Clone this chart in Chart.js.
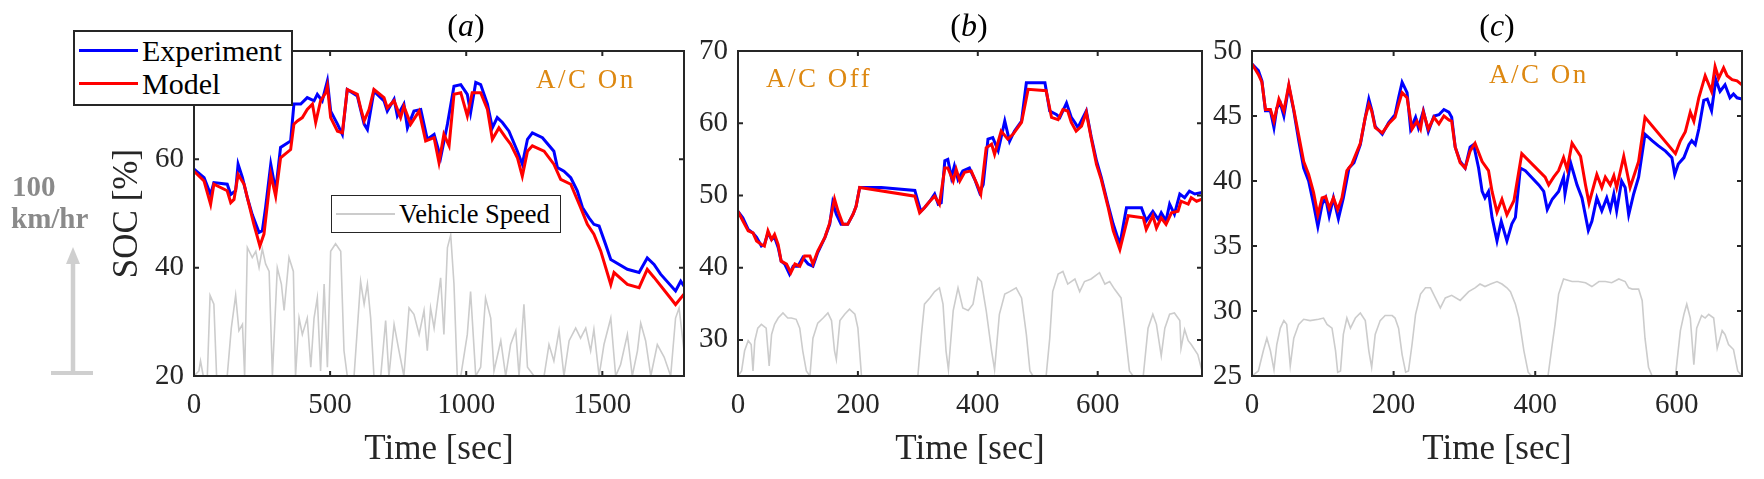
<!DOCTYPE html>
<html lang="en">
<head>
  <meta charset="UTF-8" />
  <title>SOC vs time</title>
  <script src="https://cdn.jsdelivr.net/npm/chart.js"></script>
  <style>
    body {
      margin: 0;
      background: #ffffff;
      width: 1764px;
      height: 479px;
      overflow: hidden;
      position: relative;
      font-family: 'Liberation Serif', serif;
    }
    canvas { position: absolute; top: 0; }
    .txt { position: absolute; white-space: nowrap; }
    .legend {
      position: absolute;
      box-sizing: border-box;
      background: #ffffff;
      border: 2.5px solid #262626;
      z-index: 3;
    }
    .legend .swatch { position: absolute; left: 4px; width: 59px; }
    .legend .label { position: absolute; left: 67px; color: #000; }
    .ac {
      color: #dd8811;
      font-size: 27px;
      line-height: 27px;
      letter-spacing: 2.5px;
      z-index: 2;
    }
    .ptitle {
      width: 100px;
      text-align: center;
      font-size: 32px;
      line-height: 32px;
      color: #000;
    }
    .speedNote {
      color: #8a8a8a;
      font-weight: bold;
      font-size: 29px;
      line-height: 29px;
    }
  </style>
</head>
<body>
  <canvas id="chartA" width="700" height="479" style="left:0px"></canvas>
  <canvas id="chartB" width="532" height="479" style="left:688px"></canvas>
  <canvas id="chartC" width="559" height="479" style="left:1205px"></canvas>

  <div class="txt ptitle" style="left:416px;top:9px">(<i>a</i>)</div>
  <div class="txt ptitle" style="left:919px;top:9px">(<i>b</i>)</div>
  <div class="txt ptitle" style="left:1447px;top:9px">(<i>c</i>)</div>

  <div class="txt ac" style="left:536px;top:66px">A/C On</div>
  <div class="txt ac" style="left:766px;top:65px">A/C Off</div>
  <div class="txt ac" style="left:1489px;top:61px">A/C On</div>

  <div class="legend" style="left:73px;top:30px;width:220px;height:76px">
    <div class="swatch" style="top:17px;height:3px;background:#0000ff"></div>
    <div class="label" style="top:2px;font-size:30px;line-height:34px">Experiment</div>
    <div class="swatch" style="top:50px;height:3px;background:#ff0000"></div>
    <div class="label" style="top:35px;font-size:30px;line-height:34px">Model</div>
  </div>

  <div class="legend" style="left:331px;top:195px;width:230px;height:38px;border-width:1.5px">
    <div class="swatch" style="top:17px;height:2px;background:#cccccc"></div>
    <div class="label" style="top:2px;font-size:26.5px;line-height:32px">Vehicle Speed</div>
  </div>

  <div class="txt speedNote" style="left:12px;top:172px">100</div>
  <div class="txt speedNote" style="left:11px;top:204px">km/hr</div>
  <svg width="110" height="479" style="position:absolute;left:0;top:0">
    <line x1="73" y1="373" x2="73" y2="262" stroke="#cfcfcf" stroke-width="4.5"/>
    <polygon points="66,264 80,264 73,247" fill="#cfcfcf"/>
    <line x1="51" y1="373" x2="93" y2="373" stroke="#cfcfcf" stroke-width="4"/>
  </svg>

  <script>
    // ---- panel (a): A/C on, long drive ----
    const xTicksA = [0, 500, 1000, 1500];
    const yTicksA = [20, 40, 60, 80];
    const expA = [[0,58.2],[37,56.6],[61,53.5],[73,55.7],[122,55.4],[135,53.5],[153,54.2],[162,59.1],[178,56.6],[196,52.9],[214,49.8],[239,46.5],[251,46.8],[263,51.1],[282,59.1],[300,54.2],[318,62.2],[355,63.4],[367,70.2],[392,70.2],[416,71.4],[441,70.8],[453,72.0],[471,70.8],[490,74.5],[502,68.9],[527,66.5],[545,64.6],[563,72.9],[600,71.7],[625,66.5],[637,65.5],[661,72.6],[698,70.8],[710,68.9],[735,71.1],[747,68.0],[771,70.2],[784,65.8],[808,68.9],[833,69.2],[857,63.7],[882,64.6],[906,60.3],[931,66.5],[955,73.5],[980,73.8],[1004,72.0],[1016,68.6],[1035,74.2],[1053,73.8],[1078,70.2],[1096,65.8],[1114,67.7],[1133,66.8],[1157,65.2],[1188,61.5],[1206,59.1],[1225,63.7],[1243,64.9],[1280,64.0],[1322,61.5],[1335,58.5],[1359,57.8],[1384,56.6],[1408,54.2],[1427,51.1],[1451,49.2],[1469,48.0],[1488,47.7],[1512,44.3],[1531,41.5],[1592,39.7],[1635,39.1],[1665,41.8],[1690,40.6],[1714,38.8],[1769,35.7],[1788,37.5],[1800,36.6]];
    const modelA = [[0,57.8],[37,56.0],[61,51.7],[73,55.4],[122,54.2],[135,52.0],[147,52.6],[162,57.2],[184,55.4],[202,51.7],[220,48.0],[242,44.0],[257,46.2],[282,57.2],[300,53.2],[318,60.3],[355,61.8],[367,66.5],[380,67.1],[398,67.7],[416,69.2],[435,70.2],[447,66.8],[465,70.8],[484,72.3],[490,73.5],[502,67.7],[527,65.2],[545,64.9],[563,72.9],[600,72.0],[612,69.5],[625,67.1],[643,69.2],[661,72.9],[698,71.4],[710,69.5],[735,70.8],[759,67.7],[771,69.8],[796,66.5],[827,68.9],[851,63.4],[882,64.0],[900,59.4],[918,64.6],[937,62.5],[955,72.0],[980,72.3],[1004,68.0],[1022,72.3],[1053,72.3],[1078,69.2],[1096,63.7],[1120,65.8],[1145,64.0],[1163,62.8],[1188,60.3],[1206,56.9],[1225,61.5],[1243,62.5],[1286,61.5],[1322,59.1],[1347,56.3],[1384,55.4],[1420,51.1],[1445,48.0],[1469,46.2],[1494,43.1],[1531,36.9],[1543,39.1],[1592,36.9],[1635,36.3],[1665,39.7],[1690,38.2],[1769,33.2],[1800,35.1]];
    const speedA = [[0,0],[18,4],[24,12],[34,0],[49,0],[59,64],[73,57],[83,0],[122,0],[137,38],[153,64],[165,36],[178,41],[186,0],[196,102],[214,94],[227,99],[239,86],[251,101],[263,89],[276,83],[288,0],[306,86],[321,73],[331,52],[349,94],[365,83],[373,0],[386,46],[398,33],[416,46],[429,7],[441,46],[453,62],[465,4],[478,73],[490,7],[502,99],[520,105],[539,99],[551,20],[563,0],[588,0],[612,75],[625,57],[637,73],[649,46],[661,0],[686,0],[704,44],[716,0],[735,41],[753,20],[771,0],[790,54],[808,49],[827,33],[845,52],[857,20],[869,54],[882,38],[906,78],[918,33],[931,102],[943,112],[955,73],[967,0],[980,0],[1004,33],[1016,67],[1035,0],[1053,7],[1071,62],[1090,46],[1102,4],[1127,28],[1145,0],[1163,25],[1182,36],[1194,0],[1212,57],[1225,7],[1249,0],[1286,0],[1304,25],[1322,12],[1341,36],[1359,0],[1378,28],[1402,38],[1420,30],[1439,38],[1457,20],[1469,37],[1488,0],[1506,25],[1531,46],[1549,0],[1567,9],[1592,33],[1610,0],[1629,20],[1641,42],[1659,28],[1678,0],[1702,25],[1727,15],[1751,0],[1769,46],[1782,54],[1800,20]];

    // ---- panel (b): A/C off ----
    const xTicksB = [0, 200, 400, 600];
    const yTicksB = [30, 40, 50, 60, 70];
    const expB = [[0,47.8],[8,46.9],[17,45.3],[25,44.8],[31,44.2],[39,43.0],[44,43.2],[50,44.8],[56,43.9],[61,44.2],[67,42.8],[72,40.9],[78,40.5],[86,39.1],[92,40.2],[100,40.2],[108,41.4],[117,40.5],[125,40.2],[133,42.1],[145,44.2],[153,46.0],[158,49.0],[164,47.4],[172,46.0],[183,46.0],[192,47.4],[197,48.5],[203,51.1],[239,51.1],[295,50.7],[300,49.2],[305,47.8],[311,48.3],[320,49.2],[328,50.2],[334,48.8],[339,49.0],[345,54.8],[350,55.0],[356,52.5],[361,54.1],[367,52.2],[375,53.4],[386,53.8],[395,52.2],[403,50.4],[409,51.5],[417,57.8],[425,58.0],[434,56.2],[445,60.3],[453,57.5],[461,58.9],[473,60.3],[481,65.6],[512,65.6],[520,61.7],[531,61.2],[537,60.8],[548,62.8],[556,60.8],[562,60.1],[567,59.4],[581,61.7],[589,58.2],[598,54.8],[606,52.5],[617,48.8],[626,46.0],[637,43.2],[648,48.3],[673,48.3],[681,46.5],[692,47.8],[701,46.7],[706,47.6],[714,46.5],[720,48.8],[728,47.4],[737,50.2],[745,49.7],[753,50.6],[762,50.2],[774,50.4]];
    const modelB = [[0,47.8],[8,46.5],[17,45.1],[25,44.8],[31,43.7],[39,43.2],[44,43.0],[50,45.1],[56,43.9],[61,44.6],[67,43.2],[72,40.9],[81,40.5],[88,39.3],[95,40.5],[103,40.2],[111,41.6],[120,41.6],[125,40.5],[133,42.3],[145,44.2],[153,46.2],[161,49.5],[167,47.8],[175,46.0],[183,46.0],[192,47.4],[197,48.5],[203,51.1],[295,49.9],[303,47.6],[311,48.3],[320,49.2],[328,49.9],[336,48.8],[345,53.8],[350,53.8],[359,52.0],[364,53.6],[370,52.0],[378,53.2],[389,53.4],[400,51.3],[405,50.2],[414,56.6],[423,57.1],[428,55.7],[439,58.9],[450,57.8],[459,58.5],[473,60.1],[484,64.7],[514,64.5],[523,60.8],[534,60.5],[542,61.9],[550,61.7],[556,60.1],[564,58.9],[573,59.6],[581,61.5],[589,58.0],[598,54.3],[606,52.2],[617,48.5],[626,45.1],[637,42.5],[651,47.2],[676,46.9],[681,45.3],[692,47.2],[698,45.5],[706,46.9],[714,46.0],[723,47.6],[734,47.8],[739,49.2],[751,48.8],[756,49.7],[765,49.2],[774,49.5]];
    const speedB = [[0,0],[6,4],[11,20],[17,28],[22,25],[25,4],[28,28],[33,38],[39,41],[47,38],[52,8],[56,33],[61,41],[67,46],[75,50],[83,46],[89,46],[97,45],[103,38],[108,20],[114,4],[120,0],[125,30],[133,42],[142,46],[150,50],[156,44],[161,20],[164,13],[170,44],[178,49],[186,53],[195,49],[200,38],[206,0],[300,0],[306,33],[311,57],[320,62],[328,67],[336,70],[342,57],[347,20],[351,5],[359,52],[367,70],[375,54],[384,52],[392,57],[400,78],[406,75],[414,52],[423,20],[428,5],[436,49],[445,65],[453,67],[464,70],[473,62],[481,33],[487,4],[492,0],[514,0],[520,30],[525,67],[534,81],[542,83],[550,73],[562,77],[570,67],[578,75],[589,77],[603,82],[612,73],[620,75],[628,69],[639,62],[645,38],[653,4],[659,0],[676,0],[684,38],[692,49],[698,41],[706,16],[712,38],[720,49],[728,50],[737,44],[739,22],[745,37],[751,28],[756,25],[767,17],[774,4]];

    // ---- panel (c): A/C on ----
    const xTicksC = [0, 200, 400, 600];
    const yTicksC = [25, 30, 35, 40, 45, 50];
    const expC = [[0,49.0],[9,48.5],[14,47.7],[19,45.4],[26,45.4],[31,44.1],[35,45.6],[40,46.0],[45,45.0],[52,47.3],[59,45.4],[66,43.1],[73,41.0],[80,40.0],[87,38.2],[93,36.5],[99,38.2],[104,38.7],[109,37.3],[115,38.7],[122,37.1],[129,38.7],[137,41.0],[144,41.4],[153,42.8],[160,44.9],[165,46.3],[169,45.5],[174,44.2],[184,43.6],[193,44.5],[202,45.1],[207,46.4],[212,47.6],[219,46.8],[224,44.0],[231,44.9],[235,44.1],[242,45.4],[249,43.8],[257,45.0],[264,45.1],[271,45.5],[278,45.3],[282,44.9],[287,42.6],[294,41.5],[301,41.0],[308,42.6],[313,42.8],[320,41.0],[325,39.2],[329,38.7],[334,39.2],[339,37.2],[346,35.4],[352,36.9],[360,35.4],[367,36.7],[372,37.2],[379,41.0],[386,40.8],[405,39.7],[412,39.2],[417,37.8],[424,38.6],[433,39.2],[440,40.3],[442,39.0],[450,41.4],[459,39.7],[466,38.7],[475,36.2],[480,36.9],[487,38.7],[494,37.7],[501,38.7],[506,37.8],[511,39.0],[515,37.7],[522,40.0],[527,39.5],[532,37.4],[539,39.0],[546,40.3],[555,43.6],[565,43.1],[574,42.7],[584,42.3],[593,41.8],[597,40.5],[602,41.3],[610,41.8],[617,42.8],[621,43.1],[626,42.8],[631,44.0],[638,46.2],[643,46.3],[649,45.4],[655,47.8],[661,46.9],[668,47.4],[675,46.4],[680,46.7],[685,46.4],[692,46.3]];
    const modelC = [[0,49.0],[9,48.2],[14,47.6],[19,45.5],[26,45.5],[31,44.6],[38,46.3],[45,45.4],[52,47.4],[59,45.5],[66,43.5],[73,41.5],[80,40.5],[87,39.1],[93,37.4],[99,38.7],[104,38.8],[109,37.9],[115,38.7],[121,37.8],[127,38.7],[134,40.8],[141,41.3],[153,42.9],[160,44.9],[165,45.9],[169,45.4],[174,44.1],[184,43.7],[193,44.4],[202,44.9],[207,45.9],[212,46.8],[219,46.4],[226,44.0],[233,44.6],[238,44.0],[242,45.3],[249,44.0],[257,44.9],[264,44.4],[271,45.0],[278,44.7],[282,44.6],[287,42.6],[294,41.4],[301,41.0],[308,42.3],[315,42.9],[325,41.5],[334,40.8],[339,39.2],[346,37.6],[353,38.6],[360,37.4],[370,38.5],[381,42.1],[414,40.3],[419,39.7],[426,40.3],[433,40.8],[440,41.8],[445,40.9],[452,42.9],[464,41.9],[471,39.7],[476,38.3],[482,39.5],[487,40.5],[494,39.5],[499,40.3],[506,39.7],[511,40.4],[515,39.5],[525,41.9],[534,39.5],[546,41.5],[555,44.9],[598,42.1],[605,43.1],[612,43.8],[619,45.3],[624,44.6],[631,46.4],[640,48.1],[649,46.9],[654,48.8],[659,47.9],[666,48.7],[671,48.1],[678,47.8],[685,47.7],[692,47.4]];
    const speedC = [[0,0],[9,4],[16,20],[21,30],[26,20],[31,5],[35,25],[40,38],[45,44],[49,41],[54,8],[59,30],[66,41],[73,45],[82,44],[94,45],[101,46],[106,41],[113,38],[118,20],[121,3],[125,4],[129,33],[134,46],[139,38],[146,46],[153,50],[160,44],[165,20],[169,7],[174,33],[181,44],[188,48],[198,48],[202,46],[207,38],[212,17],[217,3],[221,4],[226,25],[231,49],[238,65],[245,70],[252,70],[259,62],[266,54],[273,62],[282,64],[294,60],[306,67],[315,70],[322,73],[329,71],[337,73],[346,75],[353,73],[360,70],[365,67],[372,57],[377,46],[384,20],[390,3],[395,0],[418,0],[424,25],[428,41],[433,65],[440,77],[452,75],[461,75],[471,74],[480,71],[490,75],[499,75],[508,74],[518,77],[527,75],[532,70],[537,69],[546,69],[551,60],[555,30],[560,7],[565,0],[598,0],[605,36],[610,49],[614,57],[619,46],[624,9],[628,38],[635,48],[640,46],[645,49],[652,46],[657,22],[664,36],[668,33],[673,25],[680,21],[686,4],[692,0]];

    const AXIS_COLOR = '#262626';
    const SPEED_MAX = 258; // km/hr at top of the axes box (100 km/hr = arrow length)

    Chart.defaults.font.family = "'Liberation Serif', serif";
    Chart.defaults.color = AXIS_COLOR;

    // MATLAB style box with inward ticks
    const boxPlugin = {
      id: 'matlabBox',
      afterDraw(chart) {
        const { ctx, chartArea: a, scales } = chart;
        const len = 5;
        ctx.save();
        ctx.strokeStyle = AXIS_COLOR;
        ctx.lineWidth = 2;
        ctx.beginPath();
        for (const t of scales.x.ticks) {
          const px = scales.x.getPixelForValue(t.value);
          ctx.moveTo(px, a.bottom); ctx.lineTo(px, a.bottom - len);
          ctx.moveTo(px, a.top); ctx.lineTo(px, a.top + len);
        }
        for (const t of scales.y.ticks) {
          const py = scales.y.getPixelForValue(t.value);
          ctx.moveTo(a.left, py); ctx.lineTo(a.left + len, py);
          ctx.moveTo(a.right, py); ctx.lineTo(a.right - len, py);
        }
        ctx.stroke();
        ctx.strokeRect(a.left, a.top, a.right - a.left, a.bottom - a.top);
        ctx.restore();
      }
    };

    const toXY = arr => arr.map(p => ({ x: p[0], y: p[1] }));
    const plain = v => String(v);

    function makePanel(id, cfg) {
      const ctx = document.getElementById(id).getContext('2d');
      return new Chart(ctx, {
        type: 'line',
        data: {
          datasets: [
            { label: 'Vehicle Speed', data: toXY(cfg.speed), yAxisID: 'y1', borderColor: '#cccccc', borderWidth: 1.6, order: 3 },
            { label: 'Experiment', data: toXY(cfg.exp), yAxisID: 'y', borderColor: '#0000ff', borderWidth: 3, order: 2 },
            { label: 'Model', data: toXY(cfg.model), yAxisID: 'y', borderColor: '#ff0000', borderWidth: 3, order: 1 }
          ]
        },
        options: {
          responsive: false,
          animation: false,
          devicePixelRatio: 1,
          elements: { point: { radius: 0 }, line: { tension: 0, fill: false } },
          layout: { padding: cfg.padding },
          plugins: { legend: { display: false }, tooltip: { enabled: false } },
          scales: {
            x: {
              type: 'linear',
              min: cfg.xMin, max: cfg.xMax,
              grid: { display: false, drawTicks: false },
              border: { display: false },
              ticks: { font: { size: 29 }, padding: 12, maxRotation: 0, callback: plain },
              afterBuildTicks: s => { s.ticks = cfg.xTicks.map(v => ({ value: v })); },
              afterFit: s => { s.height = 99; },
              title: { display: true, text: 'Time [sec]', font: { size: 35 }, color: AXIS_COLOR, padding: { top: 4, bottom: 4 } }
            },
            y: {
              type: 'linear',
              min: cfg.yMin, max: cfg.yMax,
              grid: { display: false, drawTicks: false },
              border: { display: false },
              ticks: { font: { size: 29 }, padding: 10, callback: plain },
              afterBuildTicks: s => { s.ticks = cfg.yTicks.map(v => ({ value: v })); },
              afterFit: s => { s.width = cfg.yWidth; },
              title: { display: !!cfg.yTitle, text: cfg.yTitle || '', font: { size: 35 }, color: AXIS_COLOR, padding: { top: 4, bottom: 4 } }
            },
            y1: {
              type: 'linear',
              display: false,
              min: 0, max: SPEED_MAX
            }
          }
        },
        plugins: [boxPlugin]
      });
    }

    makePanel('chartA', {
      exp: expA, model: modelA, speed: speedA,
      xMin: 0, xMax: 1800, yMin: 20, yMax: 80,
      xTicks: xTicksA, yTicks: yTicksA,
      yTitle: 'SOC [%]', yWidth: 91,
      padding: { left: 103, right: 16, top: 51, bottom: 4 }
    });
    makePanel('chartB', {
      exp: expB, model: modelB, speed: speedB,
      xMin: 0, xMax: 774, yMin: 25, yMax: 70,
      xTicks: xTicksB, yTicks: yTicksB,
      yWidth: 50,
      padding: { left: 0, right: 18, top: 51, bottom: 4 }
    });
    makePanel('chartC', {
      exp: expC, model: modelC, speed: speedC,
      xMin: 0, xMax: 692, yMin: 25, yMax: 50,
      xTicks: xTicksC, yTicks: yTicksC,
      yWidth: 47,
      padding: { left: 0, right: 22, top: 51, bottom: 4 }
    });
  </script>
</body>
</html>
